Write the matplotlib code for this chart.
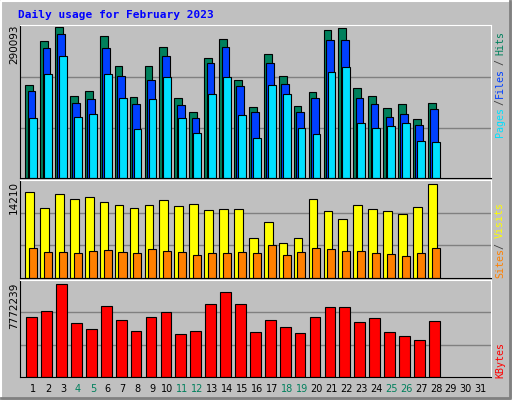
import numpy as np
import matplotlib.pyplot as plt
from matplotlib.lines import Line2D

days = list(range(1, 29))
hits = [179330, 262400, 290093, 157570, 167460, 272290, 214930, 155600, 214930, 252500,
        153600, 125900, 230760, 266360, 189220, 135820, 238670, 195150, 137800, 165480,
        284160, 288110, 173390, 157570, 133840, 141750, 114060, 143730]
files = [168120, 250530, 276250, 143730, 151640, 250530, 195150, 141750, 189220, 234710,
         139770, 116040, 220870, 252500, 177350, 125920, 220870, 181310, 125920, 153620,
         264380, 264380, 153620, 141750, 118010, 123950, 102190, 131860]
pages = [116040, 199110, 234710, 118010, 123950, 199110, 153620, 94280, 151640, 193170,
         116040, 86370, 161530, 193170, 121970, 76480, 179330, 161530, 96260, 84390,
         203070, 212960, 106150, 96260, 100210, 106150, 70550, 68570]
visits = [12975, 10503, 12666, 11893, 12202, 11430, 10967, 10503, 10967, 11739,
          10812, 11121, 10194, 10349, 10349, 6024, 8495, 5252, 6024, 11893,
          10040, 8958, 10967, 10349, 10040, 9576, 10657, 14210]
sites = [4531, 3862, 3862, 3707, 4016, 4171, 3862, 3707, 4325, 4016,
         3862, 3398, 3707, 3707, 3862, 3707, 4943, 3398, 3862, 4480,
         4325, 4016, 4016, 3707, 3553, 3244, 3707, 4480]
kbytes = [5039000, 5466000, 7772239, 4527000, 4014000, 5893000, 4783000, 3843000, 5039000, 5381000,
          3587000, 3843000, 6064000, 7089000, 6064000, 3758000, 4783000, 4185000, 3673000, 5039000,
          5808000, 5808000, 4612000, 4954000, 3758000, 3416000, 3075000, 4698000]
weekend = [4, 5, 11, 12, 18, 19, 25, 26]

W, H = 512, 400
BG = '#C0C0C0'
GREEN = '#00805C'
MONO = 'DejaVu Sans Mono'

fig = plt.figure(figsize=(W / 100, H / 100), dpi=100, facecolor=BG)

# bevel border
fig.add_artist(Line2D([1/W, 1/W, 1 - 1/W], [1/H, 1 - 1/H, 1 - 1/H], color='white', lw=1.5))
fig.add_artist(Line2D([1/W, 1 - 2/W, 1 - 2/W], [2/H, 2/H, 1 - 1/H], color='#808080', lw=2))

fig.text(18 / W, 1 - 15 / H, 'Daily usage for February 2023', color='#0000FF',
         fontfamily=MONO, fontweight='bold', fontsize=8, va='center')

def panel(top, bottom, top_val):
    ax = fig.add_axes([20 / W, 1 - bottom / H, 471 / W, (bottom - top) / H])
    ax.set_facecolor(BG)
    ax.set_xlim(0.108, 31.69)
    ax.set_ylim(0, top_val)
    for f in (1 / 3, 2 / 3):
        ax.axhline(top_val * f, color='#808080', lw=1, zorder=0)
    ax.set_xticks([])
    ax.set_yticks([])
    for s in ax.spines.values():
        s.set_color('black')
    ax.spines['right'].set_color('white')
    ax.spines['top'].set_color('white')
    return ax

x = np.array(days)
kw = dict(align='edge', edgecolor='black', linewidth=0.8)

ax1 = panel(25, 178, 290093 * 147 / 147)
ax1.set_ylim(0, 290093 * 149 / 147)
ax1.bar(x - 0.54, hits, 0.52, color=GREEN, **kw)
ax1.bar(x - 0.38, files, 0.52, color='#0040FF', **kw)
ax1.bar(x - 0.27, pages, 0.52, color='#00E0FF', **kw)

ax2 = panel(180, 278, 14210 * 287 / 276)
ax2.bar(x - 0.54, visits, 0.58, color='#FFFF00', **kw)
ax2.bar(x - 0.29, sites, 0.54, color='#FF8000', **kw)

ax3 = panel(280, 377, 7772239 * 284 / 273)
ax3.bar(x - 0.47, kbytes, 0.72, color='#FF0000', **kw)

# max labels on the left
for y, t in [(25, '290093'), (181, '14210'), (283, '7772239')]:
    fig.text(14 / W, 1 - y / H, t, rotation=90, fontfamily='DejaVu Sans', fontsize=7.5,
             va='top', ha='center', color='black')

# legends on the right
legend = [(122, 'Pages', '#00E0FF'), (102, '/', '#404040'), (83, 'Files', '#0040FF'),
          (62, '/', '#404040'), (43, 'Hits', GREEN),
          (263, 'Sites', '#FF8000'), (246, '/', '#404040'), (220, 'Visits', '#FFFF00'),
          (360, 'KBytes', '#FF0000')]
for y, t, c in legend:
    fig.text(500 / W, 1 - y / H, t, rotation=90, fontfamily=MONO, fontsize=7.2,
             va='center', ha='center', color=c)

# day labels
for d in range(1, 32):
    xp = 20 + (d - 0.108) * 471 / (31.69 - 0.108)
    fig.text(xp / W, 1 - 389 / H, str(d), fontfamily='DejaVu Sans', fontsize=7,
             ha='center', va='center', color=GREEN if d in weekend else 'black')

fig.savefig('out.png', dpi=100, facecolor=BG)
